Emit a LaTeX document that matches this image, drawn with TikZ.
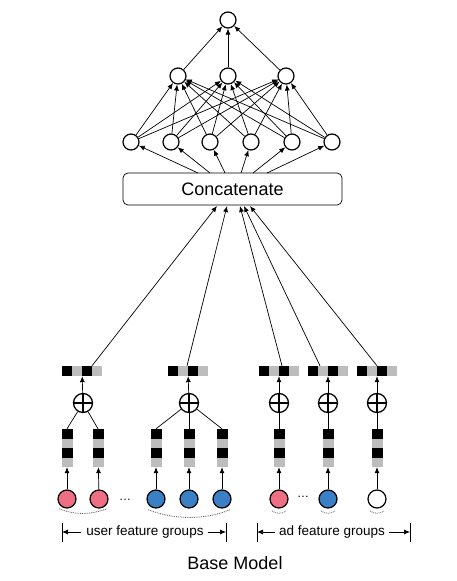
\documentclass[tikz,border=0pt]{standalone}
\usepackage{fontspec}
\setmainfont{Liberation Sans}
\usetikzlibrary{arrows.meta}
\definecolor{pinkc}{HTML}{EE6F84}
\definecolor{bluec}{HTML}{3A80C6}
\definecolor{cellgray}{HTML}{BDBDBD}
\newcommand{\hvec}[3]{%
  \fill[black] (#2-20,#3-5) rectangle ++(10,10);
  \fill[cellgray] (#2-10,#3-5) rectangle ++(10,10);
  \fill[black] (#2,#3-5) rectangle ++(10,10);
  \fill[cellgray] (#2+10,#3-5) rectangle ++(10,10);
  \node[inner sep=0,minimum width=40pt,minimum height=10pt] (#1) at (#2,#3) {};}
\newcommand{\vvec}[3]{%
  \fill[black] (#2-5.5,#3-19) rectangle ++(11,9.5);
  \fill[cellgray] (#2-5.5,#3-9.5) rectangle ++(11,9.5);
  \fill[black] (#2-5.5,#3) rectangle ++(11,9.5);
  \fill[cellgray] (#2-5.5,#3+9.5) rectangle ++(11,9.5);
  \node[inner sep=0,minimum width=11pt,minimum height=38pt] (#1) at (#2,#3) {};}
\begin{document}
\begin{tikzpicture}[x=1pt,y=-1pt,
  neuron/.style={circle,draw,line width=1.2pt,minimum size=16pt,inner sep=0},
  feat/.style={circle,draw,line width=1.2pt,minimum size=18pt,inner sep=0},
  sumnode/.style={circle,draw,line width=1.3pt,minimum size=19pt,inner sep=0,
    path picture={\draw[line width=1.3pt] (path picture bounding box.north) -- (path picture bounding box.south)
      (path picture bounding box.west) -- (path picture bounding box.east);}},
  arr/.style={-{Latex[length=6pt,width=5pt]},line width=0.7pt},
  ln/.style={line width=0.7pt},
  dots/.style={densely dotted,line width=0.8pt,black!70},
  lab/.style={font=\fontsize{13.5}{16}\selectfont,inner sep=1pt},
]
\useasboundingbox (0,0) rectangle (457,581);

% MLP
\node[neuron] (top) at (228,20) {};
\node[neuron] (h1) at (178,76) {};
\node[neuron] (h2) at (228,76) {};
\node[neuron] (h3) at (286,76) {};
\foreach \i/\x in {1/131,2/171,3/210,4/251,5/292,6/332}
  \node[neuron] (l\i) at (\x,142) {};
\node[draw,rounded corners=5pt,line width=0.7pt,minimum width=219pt,minimum height=32pt,inner sep=0,
  font=\fontsize{18}{20}\selectfont] (concat) at (232.5,189) {Concatenate};

\foreach \h in {1,2,3} \draw[arr] (h\h) -- (top);
\foreach \i in {1,...,6} \foreach \h in {1,2,3} \draw[arr] (l\i) -- (h\h);
\foreach \i/\x in {1/198,2/210,3/225,4/241,5/253,6/267} {
  \coordinate (c\i) at (\x,173);
  \draw[arr] (c\i) -- (l\i);
}

% concatenated embedding vectors
\hvec{v1}{82}{371}
\hvec{v2}{188}{371}
\hvec{v3}{279}{371}
\hvec{v4}{328}{371}
\hvec{v5}{377}{371}
\foreach \i/\dx/\ex in {1/10/217,2/-1/227,3/3/240,4/-8/244,5/0/250} {
  \coordinate (s\i) at ([xshift=\dx pt]v\i.north);
  \coordinate (e\i) at (\ex,206);
  \draw[arr] (s\i) -- (e\i);
}

% sum nodes
\node[sumnode] (p1) at (83,403) {};
\node[sumnode] (p2) at (189,403) {};
\node[sumnode] (p3) at (279,403) {};
\node[sumnode] (p4) at (328,403) {};
\node[sumnode] (p5) at (377,403) {};
\foreach \i in {1,...,5} \draw[arr] (p\i) -- (v\i);

% embedding vectors
\vvec{a1}{67}{448}
\vvec{a2}{98}{448}
\vvec{b1}{156}{448}
\vvec{b2}{189}{448}
\vvec{b3}{222}{448}
\vvec{d1}{279}{448}
\vvec{d2}{328}{448}
\vvec{d3}{377}{448}
\foreach \n/\p in {a1/p1,a2/p1,b1/p2,b2/p2,b3/p2,d1/p3,d2/p4,d3/p5}
  \draw[ln] (\n.north) -- (\p);

% feature nodes
\node[feat,fill=pinkc] (fa1) at (67,499) {};
\node[feat,fill=pinkc] (fa2) at (99,499) {};
\node[feat,fill=bluec] (fb1) at (156,499) {};
\node[feat,fill=bluec] (fb2) at (189,499) {};
\node[feat,fill=bluec] (fb3) at (222,499) {};
\node[feat,fill=pinkc] (fd1) at (279,499) {};
\node[feat,fill=bluec] (fd2) at (328,499) {};
\node[feat,fill=white] (fd3) at (377,499) {};
\foreach \f/\v in {fa1/a1,fa2/a2,fb1/b1,fb2/b2,fb3/b3,fd1/d1,fd2/d2,fd3/d3}
  \draw[arr] (\f) -- (\v);

\node[font=\fontsize{12}{14}\selectfont] (ell1) at (125,500) {\dots};
\node[font=\fontsize{12}{14}\selectfont] (ell2) at (303,497) {\dots};

% dotted arcs
\draw[dots] (fa1.south west) ++(-1,3) .. controls (75,515) and (90,515) .. ([shift={(1,3)}]fa2.south east);
\draw[dots] (fb1.south west) ++(-1,4) .. controls (175,520) and (205,520) .. ([shift={(1,4)}]fb3.south east);
\foreach \f in {fd1,fd2,fd3}
  \draw[dots] ([shift={(-7,12)}]\f.center) .. controls ([shift={(-3,15)}]\f.center) and ([shift={(3,15)}]\f.center) .. ([shift={(7,12)}]\f.center);

% group labels
\node[lab] (ulab) at (145,532) {user feature groups};
\coordinate (ubl) at (62,532);
\coordinate (ubr) at (226,532);
\draw[ln] ([yshift=-10pt]ubl) -- ([yshift=9pt]ubl);
\draw[ln] ([yshift=-10pt]ubr) -- ([yshift=9pt]ubr);
\draw[arr] ([xshift=-4pt]ulab.west) -- (ubl);
\draw[arr] ([xshift=3pt]ulab.east) -- (ubr);

\node[lab] (alab) at (332,532) {ad feature groups};
\coordinate (abl) at (257,532);
\coordinate (abr) at (410,532);
\draw[ln] ([yshift=-10pt]abl) -- ([yshift=9pt]abl);
\draw[ln] ([yshift=-10pt]abr) -- ([yshift=9pt]abr);
\draw[arr] ([xshift=-3pt]alab.west) -- (abl);
\draw[arr] ([xshift=3pt]alab.east) -- (abr);

\node[font=\fontsize{18}{20}\selectfont] (title) at (235,563) {Base Model};
\end{tikzpicture}
\end{document}
